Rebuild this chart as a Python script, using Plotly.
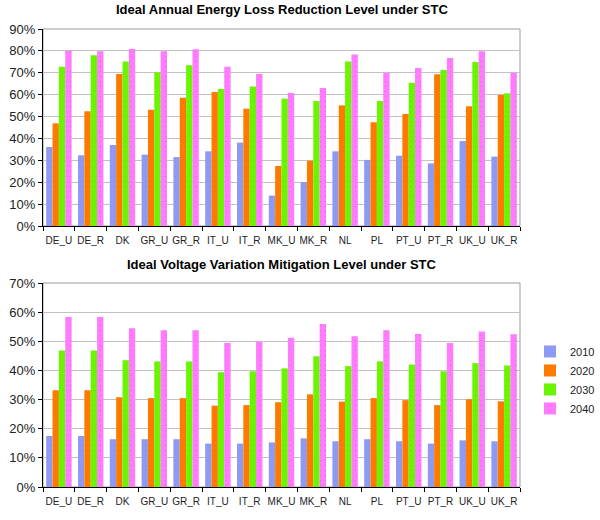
import plotly.graph_objects as go

categories = ["DE_U", "DE_R", "DK", "GR_U", "GR_R", "IT_U", "IT_R", "MK_U",
              "MK_R", "NL", "PL", "PT_U", "PT_R", "UK_U", "UK_R"]
years = ["2010", "2020", "2030", "2040"]

# Top chart: Ideal Annual Energy Loss Reduction Level under STC (%)
loss_2010 = [36.1, 32.3, 37.0, 32.6, 31.5, 34.1, 38.1, 13.9, 20.1, 34.1, 30.2, 32.1, 28.6, 38.8, 31.7]
loss_2020 = [46.9, 52.4, 69.4, 53.1, 58.6, 61.2, 53.6, 27.4, 29.8, 55.1, 47.4, 51.2, 69.3, 54.7, 59.8]
loss_2030 = [72.8, 78.0, 75.2, 70.2, 73.4, 62.6, 63.7, 58.2, 57.1, 75.2, 57.1, 65.5, 71.3, 74.9, 60.6]
loss_2040 = [80.1, 79.8, 80.9, 79.8, 80.7, 72.8, 69.4, 60.8, 63.0, 78.3, 70.0, 72.2, 76.7, 79.8, 70.0]

# Bottom chart: Ideal Voltage Variation Mitigation Level under STC (%)
volt_2010 = [17.5, 17.5, 16.4, 16.4, 16.4, 14.9, 14.9, 15.3, 16.7, 15.7, 16.4, 15.7, 14.9, 16.0, 15.7]
volt_2020 = [33.2, 33.2, 30.8, 30.5, 30.5, 27.9, 28.1, 29.1, 31.8, 29.3, 30.5, 29.8, 28.1, 30.1, 29.4]
volt_2030 = [46.8, 46.8, 43.5, 43.1, 43.1, 39.4, 39.7, 40.7, 44.9, 41.5, 43.1, 42.0, 39.7, 42.5, 41.7]
volt_2040 = [58.3, 58.3, 54.5, 53.8, 53.8, 49.4, 49.8, 51.2, 55.9, 51.7, 53.8, 52.5, 49.4, 53.4, 52.4]

titles = ["Ideal Annual Energy Loss Reduction Level under STC",
          "Ideal Voltage Variation Mitigation Level under STC"]

colors = ["#8F9AF2", "#FF7A00", "#6CF500", "#FF7CFF"]
dotcolors = ["#7A86E0", "#E86A00", "#5CDD00", "#D060D0"]

top_series = [loss_2010, loss_2020, loss_2030, loss_2040]
bot_series = [volt_2010, volt_2020, volt_2030, volt_2040]

W, H = 600, 520
L, R = 43, 55
top_px = (29, 226)
bot_px = (283, 487)

def dom(px):
    return [1 - px[1] / H, 1 - px[0] / H]

fig = go.Figure()

for i, (yr, vals) in enumerate(zip(years, top_series)):
    fig.add_trace(go.Bar(
        x=categories, y=[v / 100 for v in vals], name=yr,
        marker=dict(color=colors[i], line=dict(width=0),
                    pattern=dict(shape=".", fgcolor=dotcolors[i], size=5, solidity=0.08)),
        xaxis="x", yaxis="y", showlegend=False))

for i, (yr, vals) in enumerate(zip(years, bot_series)):
    fig.add_trace(go.Bar(
        x=categories, y=[v / 100 for v in vals], name=yr,
        marker=dict(color=colors[i], line=dict(width=0),
                    pattern=dict(shape=".", fgcolor=dotcolors[i], size=5, solidity=0.08)),
        xaxis="x2", yaxis="y2", showlegend=True))

font_family = "Liberation Sans, Arial, sans-serif"

xcommon = dict(type="category", tickson="boundaries", ticks="outside", ticklen=4,
               tickcolor="black", showline=True, linecolor="black", linewidth=1,
               showgrid=False, tickfont=dict(size=10, color="#222"), automargin=False,
               tickangle=0, ticklabelstandoff=5)
ycommon = dict(tickformat=".0%", dtick=0.1, ticks="outside", ticklen=4, tickcolor="black",
               showline=True, linecolor="black", linewidth=1, showgrid=True,
               gridcolor="#C4C0C4", gridwidth=1, zeroline=False,
               tickfont=dict(size=13, color="#222"), automargin=False)

fig.update_layout(
    width=W, height=H,
    margin=dict(l=L, r=R, t=0, b=0),
    paper_bgcolor="white", plot_bgcolor="white",
    font=dict(family=font_family, color="#222"),
    barmode="group", bargap=0.2, bargroupgap=0,
    xaxis=dict(domain=[0, 1], anchor="y", **xcommon),
    yaxis=dict(domain=dom(top_px), anchor="x", range=[0, 0.9], **ycommon),
    xaxis2=dict(domain=[0, 1], anchor="y2", **xcommon),
    yaxis2=dict(domain=dom(bot_px), anchor="x2", range=[0, 0.7], **ycommon),
    legend=dict(x=1.022, y=0.352, xanchor="left", yanchor="top",
                font=dict(size=11, color="#222"), bgcolor="rgba(0,0,0,0)",
                itemwidth=30, tracegroupgap=0),
    showlegend=True,
)

# gray frame (top and right borders)
for xr, yr in [("x domain", "y domain"), ("x2 domain", "y2 domain")]:
    fig.add_shape(type="rect", xref=xr, yref=yr, x0=0, x1=1, y0=0, y1=1,
                  line=dict(color="#999999", width=1), layer="below")

fig.add_annotation(text="<b>" + titles[0] + "</b>", xref="paper", yref="paper",
                   x=0.5, y=1 - 9 / H, xanchor="center", yanchor="middle",
                   showarrow=False, font=dict(size=13, color="black"))
fig.add_annotation(text="<b>" + titles[1] + "</b>", xref="paper", yref="paper",
                   x=0.5, y=1 - 264 / H, xanchor="center", yanchor="middle",
                   showarrow=False, font=dict(size=13, color="black"))

fig.write_html("out.html")
